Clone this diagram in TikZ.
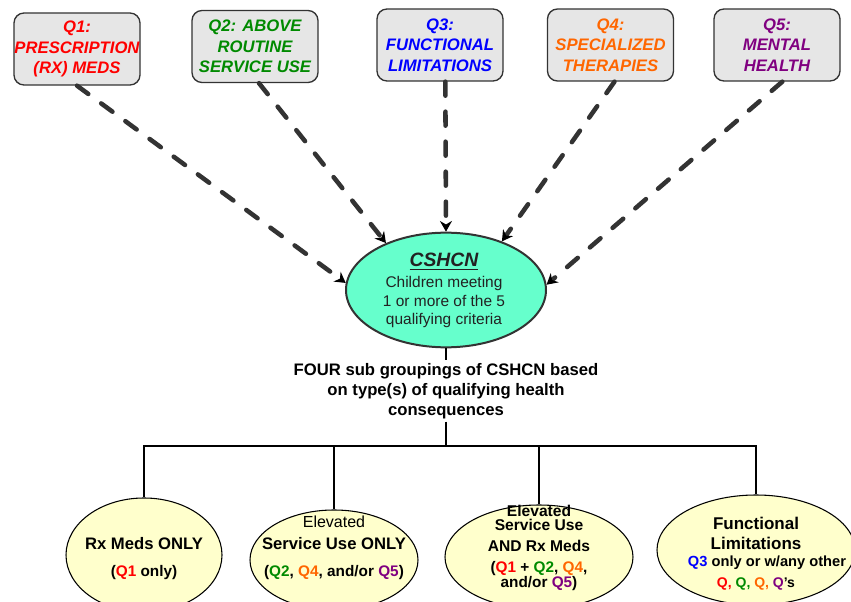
\documentclass[tikz,border=0pt]{standalone}
\usepackage{fontspec}
\setmainfont{Liberation Sans}
\usetikzlibrary{arrows.meta,shapes.geometric}
\definecolor{qred}{HTML}{FF0000}
\definecolor{qgreen}{HTML}{008A00}
\definecolor{qblue}{HTML}{0000FF}
\definecolor{qorange}{HTML}{FF6600}
\definecolor{qpurple}{HTML}{800080}
\definecolor{boxgray}{HTML}{E6E6E6}
\definecolor{aqua}{HTML}{66FFCC}
\definecolor{pale}{HTML}{FFFFCC}
\definecolor{dk}{HTML}{333333}
\definecolor{txt}{HTML}{222222}
\newcommand{\fs}[2]{\fontsize{#1}{#2}\selectfont}
\begin{document}
\begin{tikzpicture}[x=0.75pt,y=-0.75pt,
  qbox/.style={draw=dk, line width=1pt, fill=boxgray, rounded corners=7.5pt,
    minimum width=94.5pt, minimum height=54pt, align=center, inner sep=0pt,
    font=\fs{12.5}{15.3}\bfseries\itshape},
  feeder/.style={dk, line width=3.4pt, dash pattern=on 10.5pt off 12pt, line cap=round,
    -{Stealth[length=8pt,width=9pt,black,line cap=butt]}},
  hub/.style={ellipse, draw=dk, line width=1.5pt, fill=aqua, minimum width=150pt, minimum height=86pt, inner sep=0pt},
  leaf/.style={ellipse, draw=black, line width=0.8pt, fill=pale, inner sep=0pt},
  wire/.style={black, line width=1.5pt},
  ln/.style={anchor=base, inner sep=0pt, font=\bfseries},
]
\useasboundingbox (0,0) rectangle (851,602);

% top boxes
\node[qbox, text=qred]    (q1) at (77,49)  {Q1:\\PRESCRIPTION\\(RX) MEDS};
\node[qbox, text=qgreen]  (q2) at (255,46.5) {Q2: ABOVE\\ROUTINE\\SERVICE USE};
\node[qbox, text=qblue]   (q3) at (440,45) {Q3:\\FUNCTIONAL\\LIMITATIONS};
\node[qbox, text=qorange] (q4) at (610.5,45) {Q4:\\SPECIALIZED\\THERAPIES};
\node[qbox, text=qpurple] (q5) at (777,45) {Q5:\\MENTAL\\HEALTH};

% hub ellipse
\node[hub] (cs) at (446,290) {};
\node[ln, text=txt, font=\fs{14.5}{17}\bfseries\itshape] (cst1) at (444,267) {\underline{CSHCN}};
\node[ln, text=txt, font=\fs{11.6}{14}] (cst2) at (444,288) {Children meeting};
\node[ln, text=txt, font=\fs{11.6}{14}] (cst3) at (444,307) {1 or more of the 5};
\node[ln, text=txt, font=\fs{11.6}{14}] (cst4) at (444,325) {qualifying criteria};

% feeders
\draw[feeder] (q1.south) -- (cs.176);
\draw[feeder] ([xshift=3pt]q2.south) -- (cs.142);
\draw[feeder] ([xshift=4pt]q3.south) -- (cs.90);
\draw[feeder] ([xshift=3pt]q4.south) -- (cs.41);
\draw[feeder] ([xshift=4pt]q5.south) -- (cs.3);

% sub grouping label
\node[align=center, inner sep=2pt, font=\fs{12.5}{15}\bfseries] (sub) at (446,391)
  {FOUR sub groupings of CSHCN based\\on type(s) of qualifying health\hspace*{10pt}\\consequences};

% bottom ellipses
\node[leaf, minimum width=117pt, minimum height=85.5pt] (e1) at (144,555) {};
\node[leaf, minimum width=126pt, minimum height=75pt]   (e2) at (334,560) {};
\node[leaf, minimum width=141pt, minimum height=78pt]   (e3) at (539,557) {};
\node[leaf, minimum width=148.5pt, minimum height=82.5pt] (e4) at (756,550) {};

% tree connectors
\coordinate (bus) at (446,446);
\coordinate (b1) at (144,446);
\coordinate (b2) at (334,446);
\coordinate (b3) at (539,446);
\coordinate (b4) at (756,446);
\draw[wire] (cs.south) -- (sub.north);
\draw[wire] (sub.south) -- (bus);
\draw[wire] ([xshift=-0.75pt]b1) -- ([xshift=0.75pt]b4);
\draw[wire] (b1) -- (e1.north);
\draw[wire] (b2) -- (e2.north);
\draw[wire] (b3) -- (e3.north);
\draw[wire] (b4) -- (e4.north);

% leaf texts
\node[ln, font=\fs{12.5}{15}\bfseries] (e1a) at (144,550) {Rx Meds ONLY};
\node[ln, font=\fs{11.5}{14}\bfseries] (e1b) at (144,577) {(\textcolor{qred}{Q1} only)};

\node[ln, font=\fs{12}{14}\mdseries] (e2a) at (334,528) {Elevated};
\node[ln, font=\fs{12.5}{15}\bfseries] (e2b) at (334,550) {Service Use ONLY};
\node[ln, font=\fs{11.5}{14}\bfseries] (e2c) at (334,577) {(\textcolor{qgreen}{Q2}, \textcolor{qorange}{Q4}, and/or \textcolor{qpurple}{Q5})};

\node[ln, font=\fs{11.7}{14}\bfseries] (e3a) at (539,516.5) {Elevated};
\node[ln, font=\fs{11.7}{14}\bfseries] (e3b) at (539,531) {Service Use};
\node[ln, font=\fs{11.7}{14}\bfseries] (e3c) at (539,552) {AND Rx Meds};
\node[ln, font=\fs{11.5}{14}\bfseries] (e3d) at (539,573) {(\textcolor{qred}{Q1} + \textcolor{qgreen}{Q2}, \textcolor{qorange}{Q4},};
\node[ln, font=\fs{11.5}{14}\bfseries] (e3e) at (539,588) {and/or \textcolor{qpurple}{Q5})};

\node[ln, font=\fs{12.75}{15}\bfseries] (e4a) at (756,530) {Functional};
\node[ln, font=\fs{12.75}{15}\bfseries] (e4b) at (756,550) {Limitations};
\node[ln, font=\fs{11}{13}\bfseries] (e4c) at (767,567) {\textcolor{qblue}{Q3} only or w/any other};
\node[ln, font=\fs{10.5}{13}\bfseries] (e4d) at (756,588) {\textcolor{qred}{Q,} \textcolor{qgreen}{Q,} \textcolor{qorange}{Q,} \textcolor{qpurple}{Q}'s};
\end{tikzpicture}
\end{document}
